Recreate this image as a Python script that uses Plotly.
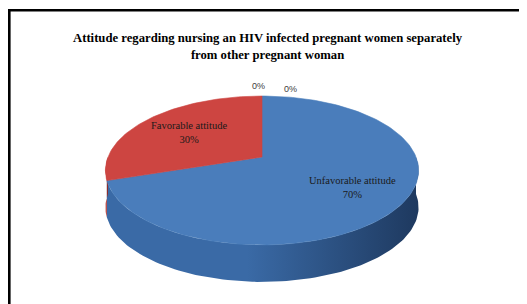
import math
import plotly.graph_objects as go

# ---- data ----
categories = ["Unfavorable attitude", "Favorable attitude", "", ""]
values = [70, 30, 0, 0]
top_colors = ["#4A7DBB", "#CD4541", "#9BBB59", "#8064A2"]
side_colors_light = ["#3A6AA6", "#B03A36", "#7F9A48", "#66508A"]
side_colors_dark = ["#1E395F", "#7A2624", "#55672F", "#45365C"]
title_lines = ["Attitude regarding nursing an HIV infected pregnant women separately",
               "from other pregnant woman"]

W, H = 527, 304
OFF = 8  # default page body margin; figure drawn in page-pixel coordinates
# pie layout (page pixel space)
cx, cy0 = 262.0, 157.0
rx, ry = 154.0, 72.0
k = 0.181          # perspective factor
depth = 37.0


def proj(theta_deg, frac=1.0):
    t = math.radians(theta_deg)
    s = 1.0 / (1.0 + k * math.cos(t))
    return cx + rx * math.sin(t) * s * frac, cy0 - ry * math.cos(t) * s * frac


total = sum(values)
fig = go.Figure()

# slice angles (clockwise from 12 o'clock)
angles = []
start = 0.0
for v in values:
    sweep = 360.0 * v / total
    angles.append((start, start + sweep))
    start += sweep

# ---- side walls (front half: 90..270 deg) ----
for i, (a1, a2) in enumerate(angles):
    lo, hi = max(a1, 90.0), min(a2, 270.0)
    if hi <= lo:
        continue
    n = max(4, int((hi - lo) / 1.5))
    pts = [proj(lo + (hi - lo) * q / n) for q in range(n + 1)]
    xs = [p[0] for p in pts] + [p[0] for p in reversed(pts)]
    ys = [p[1] for p in pts] + [p[1] + depth for p in reversed(pts)]
    xs.append(xs[0]); ys.append(ys[0])
    fig.add_trace(go.Scatter(
        x=xs, y=ys, mode="lines", fill="toself",
        fillgradient=dict(type="horizontal",
                          colorscale=[[0, side_colors_light[i]], [0.45, side_colors_light[i]],
                                      [1, side_colors_dark[i]]]),
        line=dict(width=0), hoverinfo="skip", showlegend=False))

# ---- top faces ----
for i, (a1, a2) in enumerate(angles):
    if a2 - a1 <= 0:
        continue
    n = max(2, int((a2 - a1) / 1.5))
    arc = [proj(a1 + (a2 - a1) * q / n) for q in range(n + 1)]
    xs = [cx] + [p[0] for p in arc] + [cx]
    ys = [cy0] + [p[1] for p in arc] + [cy0]
    fig.add_trace(go.Scatter(x=xs, y=ys, mode="lines", fill="toself",
                             fillcolor=top_colors[i],
                             line=dict(color=top_colors[i], width=0.6),
                             hoverinfo="skip", showlegend=False))

# ---- data labels ----
annotations = []
zero_shift = [(-4, -10), (28, -7)]
zi = 0
for i, (a1, a2) in enumerate(angles):
    pct = round(100.0 * values[i] / total)
    if values[i] > 0:
        lx, ly = proj((a1 + a2) / 2, 0.65)
        annotations.append(dict(x=lx, y=ly, xref="x", yref="y",
                                text=f"{categories[i]}<br>{pct}%", showarrow=False,
                                font=dict(family="Liberation Serif", size=10.5, color="#1a1a1a")))
    else:
        lx, ly = proj(a1, 1.0)
        dx, dy = zero_shift[zi % 2]
        zi += 1
        annotations.append(dict(x=lx, y=ly, xref="x", yref="y", text=f"{pct}%",
                                showarrow=False, xshift=dx, yshift=-dy,
                                font=dict(family="Liberation Sans", size=9, color="#404040")))

annotations.append(dict(x=268, y=46, xref="x", yref="y",
                        text="<b>" + "<br>".join(title_lines) + "</b>", showarrow=False,
                        font=dict(family="Liberation Serif", size=12.7, color="black")))

fig.update_layout(
    width=W - OFF, height=H - OFF,
    margin=dict(l=0, r=0, t=0, b=0),
    paper_bgcolor="white", plot_bgcolor="white",
    xaxis=dict(range=[OFF, W], visible=False, fixedrange=True),
    yaxis=dict(range=[H, OFF], visible=False, fixedrange=True),
    annotations=annotations,
    shapes=[dict(type="rect", xref="x", yref="y", x0=9.3, y0=10.3, x1=W + 10, y1=H + 10,
                 line=dict(color="black", width=2.6))],
    showlegend=False,
)

fig.write_html("out.html")
